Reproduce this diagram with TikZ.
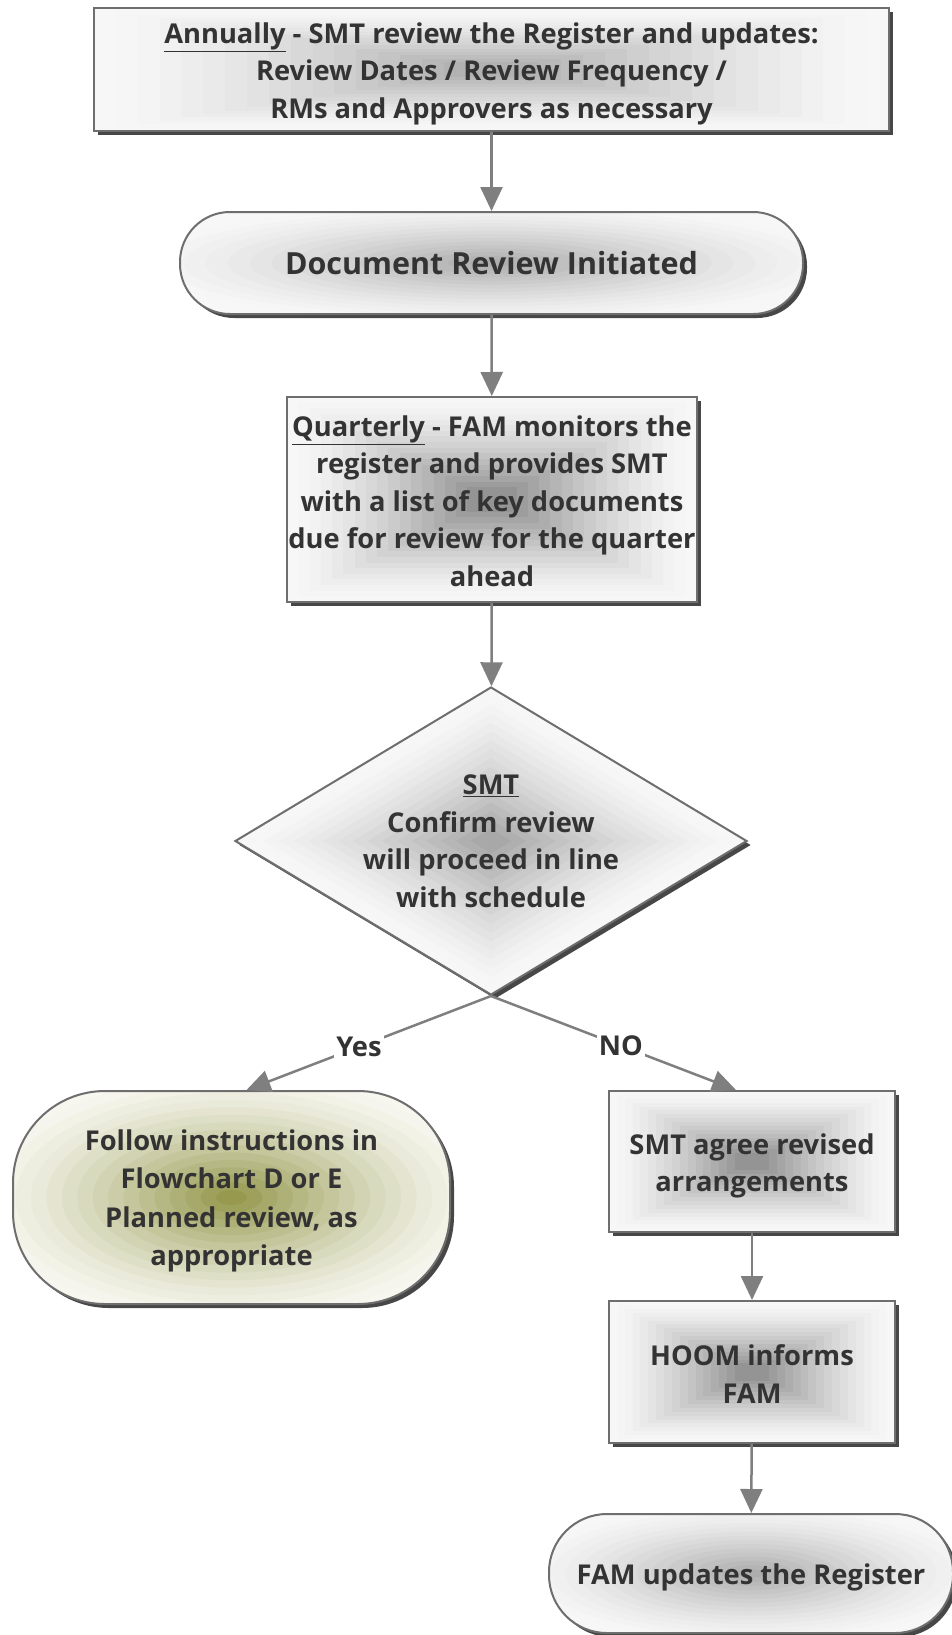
\documentclass[tikz,border=0pt]{standalone}
\usepackage{fontspec}
\setmainfont{Open Sans}
\usetikzlibrary{shapes.geometric,shadows,calc,arrows.meta}
\definecolor{txtc}{HTML}{333333}
\definecolor{bordc}{HTML}{6E6E6E}
\definecolor{arrc}{HTML}{7F7F7F}
\definecolor{olive}{RGB}{150,153,78}
\definecolor{olivebg}{RGB}{247,247,240}
\colorlet{edgec}{white!97!black}
\colorlet{ctrtop}{black!30}
\colorlet{ctrbox}{black!42}
\colorlet{ctrpill}{black!32}
\colorlet{ctrdia}{black!34}
\tikzset{
  rectfill/.style 2 args={fill=#1, path picture={
    \foreach \i in {1,...,16}{
      \pgfmathsetmacro\myt{0.44*\i/16}
      \pgfmathsetmacro\myc{100*(\i/16)^1.4}
      \fill[#2!\myc!#1] ($(path picture bounding box.south west)!\myt!(path picture bounding box.north east)$) rectangle ($(path picture bounding box.north east)!\myt!(path picture bounding box.south west)$);
    }}},
  ellfill/.style 2 args={fill=#1, path picture={
    \foreach \i in {1,...,16}{
      \pgfmathsetmacro\myt{1-\i/17}
      \pgfmathsetmacro\myc{100*(\i/16)^1.4}
      \fill[#2!\myc!#1] let \p1=(path picture bounding box.north east), \p2=(path picture bounding box.south west) in (path picture bounding box.center) ellipse [x radius={0.6*(\x1-\x2)*\myt}, y radius={0.6*(\y1-\y2)*\myt}];
    }}},
  diafill/.style 2 args={fill=#1, path picture={
    \foreach \i in {1,...,16}{
      \pgfmathsetmacro\myt{0.46*\i/16}
      \pgfmathsetmacro\myc{100*(\i/16)^1.4}
      \fill[#2!\myc!#1] ($(path picture bounding box.north)!\myt!(path picture bounding box.south)$) -- ($(path picture bounding box.east)!\myt!(path picture bounding box.west)$) -- ($(path picture bounding box.south)!\myt!(path picture bounding box.north)$) -- ($(path picture bounding box.west)!\myt!(path picture bounding box.east)$) -- cycle;
    }}},
  shapebase/.style={draw=bordc, line width=2pt, inner sep=0pt, align=center, text=txtc,
    drop shadow={shadow xshift=4pt, shadow yshift=-4pt, fill=black, opacity=0.72}},
  boxbase/.style={shapebase, rectangle},
  mainfont/.style={font=\fontsize{27.3}{37.5}\selectfont\bfseries},
  lower/.style={execute at begin node={\rule{0pt}{#1}}},
  conn/.style={draw=arrc, line width=2.5pt, -{Triangle[length=24pt,width=22pt]}},
  lab/.style={fill=white, text=txtc, inner sep=2pt, mainfont},
}
\begin{document}
\begin{tikzpicture}[x=1pt,y=-1pt]
\useasboundingbox[fill=white] (0,0) rectangle (952,1635);

\node[boxbase, rectfill={edgec}{ctrtop}, minimum width=795pt, minimum height=123pt, mainfont] (top) at (491.5,69.5)
  {\rule{0pt}{29.5pt}\underline{Annually} - SMT review the Register and updates:\\Review Dates / Review Frequency /\\RMs and Approvers as necessary};

\node[shapebase, rectangle, rounded corners=50pt, ellfill={edgec}{ctrpill}, minimum width=623pt, minimum height=102pt, font=\fontsize{30.5}{36}\selectfont\bfseries] (init) at (491.5,263)
  {Document Review Initiated};

\node[boxbase, rectfill={edgec}{ctrbox}, minimum width=410pt, minimum height=205pt, mainfont] (quart) at (492,499.5)
  {\rule{0pt}{24pt}\underline{Quarterly} - FAM monitors the\\register and provides SMT\\with a list of key documents\\due for review for the quarter\\ahead};

\node[shapebase, diamond, diafill={edgec}{ctrdia}, minimum width=512pt, minimum height=308pt] (dec) at (491,841) {};
\node[text=txtc, align=center, mainfont] (dectext) at (491,841)
  {\underline{SMT}\\Confirm review\\will proceed in line\\with schedule};

\node[shapebase, rectangle, rounded corners=92pt, ellfill={olivebg}{olive}, minimum width=437pt, minimum height=213pt, font=\fontsize{27.3}{38.5}\selectfont\bfseries] (follow) at (231.5,1197.5)
  {\rule{0pt}{28pt}Follow instructions in\\Flowchart D or E\\Planned review, as\\appropriate};

\node[boxbase, rectfill={edgec}{ctrbox}, minimum width=286pt, minimum height=141pt, mainfont] (agree) at (752,1161.5)
  {\rule{0pt}{29.5pt}SMT agree revised\\arrangements};

\node[boxbase, rectfill={edgec}{ctrbox}, minimum width=286pt, minimum height=142pt, mainfont] (hoom) at (752,1372)
  {\rule{0pt}{25pt}HOOM informs\\FAM};

\node[shapebase, rectangle, rounded corners=58pt, ellfill={edgec}{ctrpill}, minimum width=404pt, minimum height=119pt, mainfont, lower=29.5pt] (famup) at (751,1573.5)
  {FAM updates the Register};

\draw[conn] (top) -- (init);
\draw[conn] (init) -- (quart);
\draw[conn] (quart) -- (dec);
\draw[conn] (dec.south) -- node[lab, pos=0.54]{Yes} ([xshift=15pt]follow.north);
\draw[conn] (dec.south) -- node[lab, pos=0.53]{NO} ([xshift=-16pt]agree.north);
\draw[conn] (agree) -- (hoom);
\draw[conn] (hoom) -- (famup);
\end{tikzpicture}
\end{document}
